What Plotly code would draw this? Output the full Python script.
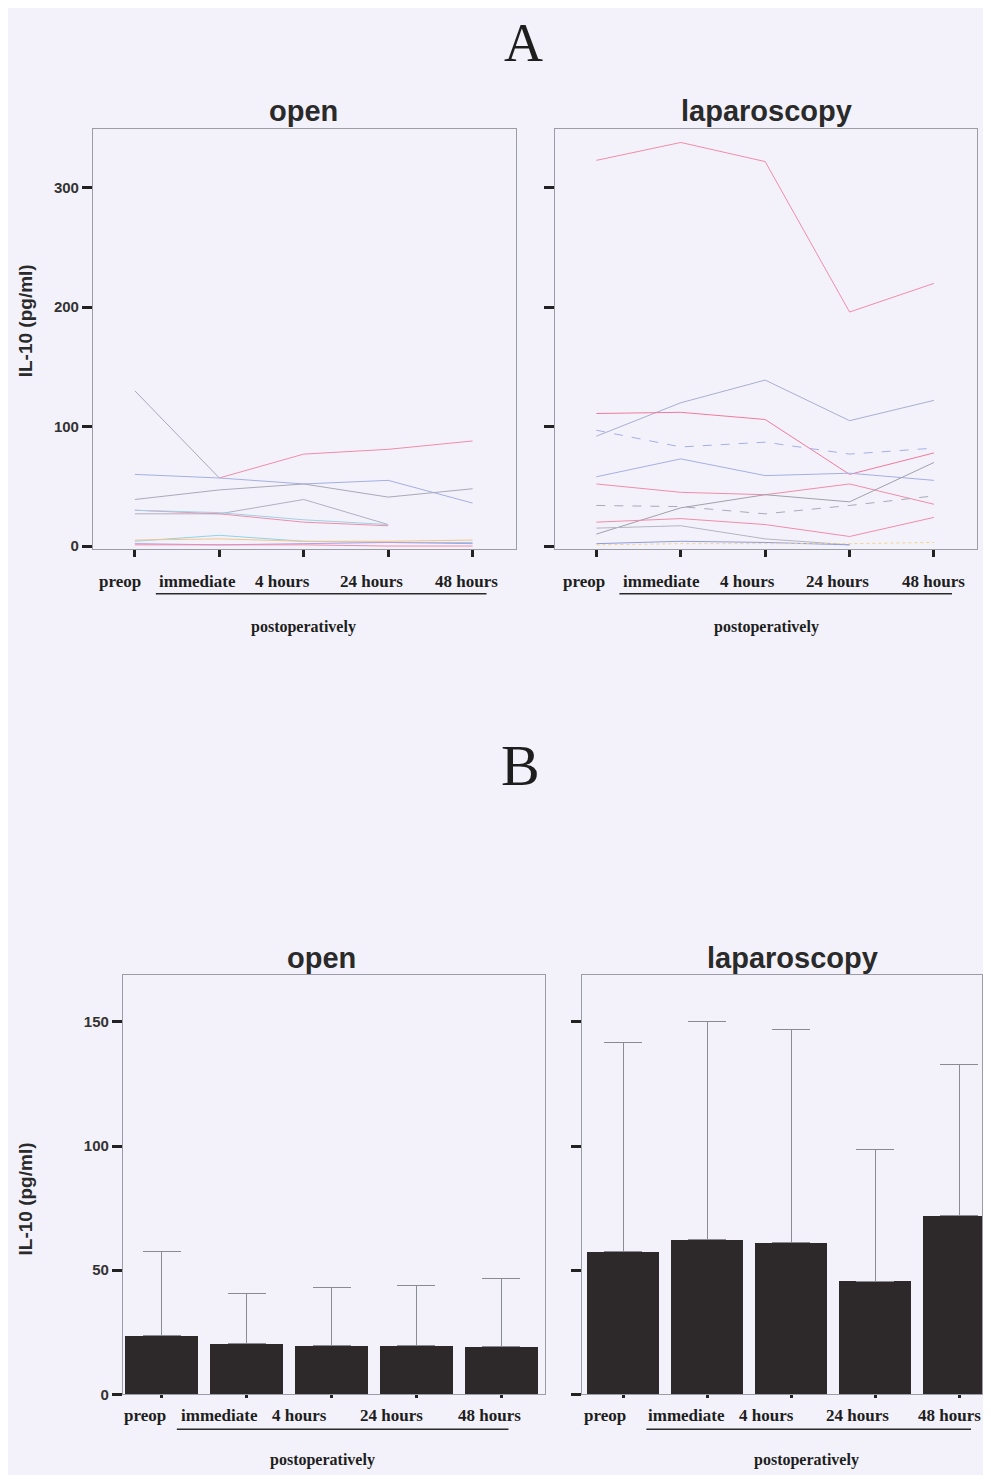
import plotly.graph_objects as go

# page body has an 8px margin, so the figure is drawn 8px in from the window edge
OFF = 8
W, H = 991 - 2 * OFF, 1483 - 2 * OFF

timepoints = ["preop", "immediate", "4 hours", "24 hours", "48 hours"]

# Panel A: individual patient IL-10 courses (pg/ml), None = missing
open_lines = [
    [130, 57, None, None, None],
    [None, 57, 77, 81, 88],
    [60, 57, 52, 55, 36],
    [39, 47, 52, 41, 48],
    [27, 27, 39, 18, None],
    [30, 27, 20, 17, None],
    [30, 28, 22, 18, None],
    [4, 9, 4, 3, 3],
    [5, 6, 4, 4, 5],
    [2, 1, 2, 3, 2],
    [1, 1, 1, 0, 0],
]
open_colors = ["#a9a9b8", "#f08cab", "#a5aee6", "#a9a9b8", "#b0b0c0", "#f08cab",
               "#9fd0e6", "#8fd3e8", "#f2c58a", "#b39be0", "#f08cab"]

lap_lines = [
    [323, 338, 322, 196, 220],
    [92, 120, 139, 105, 122],
    [111, 112, 106, 60, 78],
    [97, 83, 87, 77, 82],
    [58, 73, 59, 61, 55],
    [52, 45, 43, 52, 35],
    [10, 32, 43, 37, 70],
    [34, 33, 27, 34, 42],
    [20, 23, 18, 8, 24],
    [15, 17, 6, 1, None],
    [2, 4, 3, 1, None],
    [1, 2, 2, 2, 3],
]
lap_colors = ["#f08cab", "#a9aed0", "#f07a9c", "#a5aee6", "#a5aee6", "#f08cab",
              "#a0a0ac", "#a9a9b8", "#f08cab", "#b4b4c2", "#8f9ae0", "#f2d38a"]
lap_dash = ["solid", "solid", "solid", "dash", "solid", "solid",
            "solid", "dash", "solid", "solid", "solid", "dot"]

# Panel B: mean and SD
open_mean = [23.6, 20.4, 19.6, 19.6, 19.4]
open_sd = [34.0, 20.4, 23.4, 24.4, 27.2]
lap_mean = [57.6, 62.4, 61.0, 45.6, 72.0]
lap_sd = [84.0, 87.6, 86.0, 53.2, 61.0]

BG = "#f3f2fa"
FRAME = "#9c9ca6"
xs = list(range(len(timepoints)))


def px(v):
    return (v - OFF) / W


def py(v):
    return 1 - (v - OFF) / H


fig = go.Figure()

for vals, col in zip(open_lines, open_colors):
    fig.add_trace(go.Scatter(x=xs, y=vals, mode="lines", line=dict(color=col, width=1),
                             xaxis="x", yaxis="y", showlegend=False))
for vals, col, d in zip(lap_lines, lap_colors, lap_dash):
    fig.add_trace(go.Scatter(x=xs, y=vals, mode="lines", line=dict(color=col, width=1, dash=d),
                             xaxis="x2", yaxis="y2", showlegend=False))

bar_style = dict(marker=dict(color="#2d2829", line=dict(width=0)), width=0.86, showlegend=False)
fig.add_trace(go.Bar(x=xs, y=open_mean, xaxis="x3", yaxis="y3",
                     error_y=dict(type="data", array=open_sd, arrayminus=[0] * 5,
                                  color="#8a8a92", thickness=1, width=19), **bar_style))
fig.add_trace(go.Bar(x=xs, y=lap_mean, xaxis="x4", yaxis="y4",
                     error_y=dict(type="data", array=lap_sd, arrayminus=[0] * 5,
                                  color="#8a8a92", thickness=1, width=19), **bar_style))

tickfont = dict(family="Liberation Sans, Arial", size=15, color="#333333")


def xax(dom, rng, anchor, ticklen, mirror=True):
    return dict(domain=[px(dom[0]), min(1.0, px(dom[1]))], range=rng, anchor=anchor,
                showline=True, linecolor=FRAME, linewidth=1, mirror=mirror,
                showgrid=False, zeroline=False, ticks="outside", ticklen=ticklen,
                tickwidth=3, tickcolor="#222222", tickvals=xs, showticklabels=False)


def yax(dom, rng, anchor, tvals, labels, mirror=True):
    return dict(domain=[py(dom[1]), py(dom[0])], range=rng, anchor=anchor,
                showline=True, linecolor=FRAME, linewidth=1, mirror=mirror,
                showgrid=False, zeroline=False, ticks="outside", ticklen=10,
                tickwidth=3, tickcolor="#222222", tickvals=tvals,
                ticktext=["<b>%d</b>" % t for t in tvals], showticklabels=labels,
                tickfont=tickfont)


fig.update_layout(
    width=W, height=H, margin=dict(l=0, r=0, t=0, b=0),
    paper_bgcolor=BG, plot_bgcolor=BG, bargap=0,
    xaxis=xax((93, 517), [-0.497, 4.52], "y", 7),
    yaxis=yax((130, 552), [-2.5, 349], "x", [0, 100, 200, 300], True),
    xaxis2=xax((556, 978), [-0.485, 4.51], "y2", 7),
    yaxis2=yax((130, 552), [-2.5, 349], "x2", [0, 100, 200, 300], False),
    xaxis3=xax((123, 546), [-0.459, 4.52], "y3", 3),
    yaxis3=yax((980, 1402), [0, 169], "x3", [0, 50, 100, 150], True),
    xaxis4=xax((583, 983), [-0.488, 4.274], "y4", 3),
    yaxis4=yax((980, 1402), [0, 169], "x4", [0, 50, 100, 150], False),
)

ann = []
center = dict(xanchor="center", yanchor="middle", showarrow=False)
# big panel letters
for letter, x, y, size in [("A", 524, 43, 54), ("B", 521, 770, 58)]:
    ann.append(dict(text=letter, x=px(x), y=py(y), xref="paper", yref="paper",
                    font=dict(family="Liberation Serif", size=size, color="#1e1e1e"), **center))
# subplot titles
for t, x, y in [("open", 304, 112), ("laparoscopy", 767, 112), ("open", 322, 963), ("laparoscopy", 793, 963)]:
    ann.append(dict(text="<b>%s</b>" % t, x=px(x), y=py(y), xref="paper", yref="paper",
                    font=dict(family="Liberation Sans, Arial", size=29, color="#2a2a2a"), **center))
# y titles
for y in [322, 1205]:
    ann.append(dict(text="<b>IL-10 (pg/ml)</b>", x=px(25), y=py(y), xref="paper", yref="paper",
                    textangle=-90, font=dict(family="Liberation Sans, Arial", size=19, color="#2a2a2a"),
                    **center))

# category labels under each panel
label_font = dict(family="Liberation Serif, Times New Roman", size=17, color="#1e1e1e")
panels = [
    ("x", 585, [-15, -22, -21, -17, -6], 630, 304, (156, 487), 597),
    ("x2", 585, [-12, -19, -18, -12, 0], 630, 767, (620, 953), 597),
    ("x3", 1423, [-17, -27, -32, -25, -12], 1468, 323, (177, 509), 1437),
    ("x4", 1423, [-18, -21, -25, -18, -10], 1468, 807, (647, 972), 1437),
]
shapes = []
for xr, ly, shifts, poy, pox, (u0, u1), uy in panels:
    for i, lab in enumerate(timepoints):
        ann.append(dict(text="<b>%s</b>" % lab, x=xs[i], y=py(ly), xref=xr, yref="paper",
                        xshift=shifts[i], font=label_font, **center))
    ann.append(dict(text="<b>postoperatively</b>", x=px(pox), y=py(poy), xref="paper", yref="paper",
                    font=dict(family="Liberation Serif, Times New Roman", size=16, color="#1e1e1e"),
                    **center))
    shapes.append(dict(type="line", xref="paper", yref="paper", x0=px(u0), x1=px(u1),
                       y0=py(uy), y1=py(uy), line=dict(color="#2a2a2a", width=1.5)))

fig.update_layout(annotations=ann, shapes=shapes)

fig.write_html("out.html")
